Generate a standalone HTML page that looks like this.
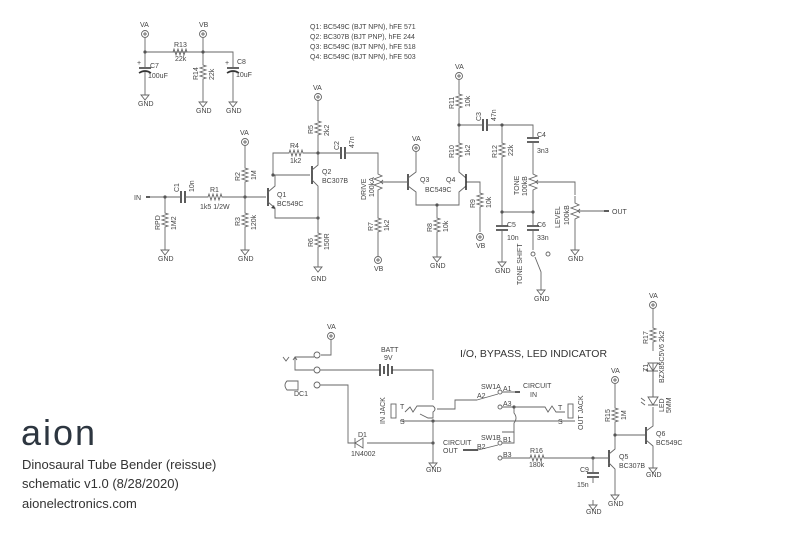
<!DOCTYPE html>
<html><head><style>
html,body{margin:0;padding:0;background:#fff;}
svg{display:block;}
text{font-family:"Liberation Sans",sans-serif;fill:#444;font-size:7px;}
.l{stroke:#666;stroke-width:0.9;fill:none;}
.t{stroke:#333;stroke-width:1.6;fill:none;}
</style></head><body>
<svg width="800" height="533" viewBox="0 0 800 533" xmlns="http://www.w3.org/2000/svg">
<defs>
<g id="rv"><path class="l" d="M0,-10 L0,-7 L3,-6 L-3,-4 L3,-2 L-3,0 L3,2 L-3,4 L3,6 L0,7 L0,10"/></g>
<g id="rh"><path class="l" d="M-10,0 L-7,0 L-6,-3 L-4,3 L-2,-3 L0,3 L2,-3 L4,3 L6,-3 L7,0 L10,0"/></g>
<g id="vc"><circle cx="0" cy="0" r="3.5" class="l"/><path class="l" d="M-2,0 L2,0 M0,-2 L0,2"/></g>
<g id="gd"><path class="l" d="M0,-5 L0,0 M-4,0 L4,0 L0,5 Z"/></g>
<g id="cv"><path class="t" d="M-6,-2 L6,-2 M-6,2 L6,2"/><path class="l" d="M0,-8 L0,-2 M0,2 L0,8"/></g>
<g id="ch"><path class="t" d="M-2,-6 L-2,6 M2,-6 L2,6"/><path class="l" d="M-8,0 L-2,0 M2,0 L8,0"/></g>
<g id="dot"><circle r="1.6" fill="#555"/></g>
<g id="pot"><path class="l" d="M0,-15 L0,-8 L4,-6 L-4,-3 L4,0 L-4,3 L4,6 L0,8 L0,15 M9,0 L3,0 M5,-2 L3,0 L5,2"/></g>
</defs>

<!-- Power filter -->
<use href="#vc" x="145" y="34"/><text x="140" y="27">VA</text>
<path class="l" d="M145,38 V52 H203 M145,52 V62 M145,78 V90 M203,38 V62 M203,82 V97 M203,52 H233 V62 M233,78 V97"/>
<use href="#rh" x="180" y="52"/><text x="174" y="47">R13</text><text x="175" y="61">22k</text>
<use href="#vc" x="203" y="34"/><text x="199" y="27">VB</text>
<use href="#dot" x="145" y="52"/><use href="#dot" x="203" y="52"/>
<path class="t" d="M139,68 H151 M139,73 Q145,69 151,73"/><text x="137" y="65" font-size="6">+</text>
<path class="l" d="M145,62 V68 M145,72 V78"/>
<text x="150" y="68">C7</text><text x="148" y="78">100uF</text>
<use href="#rv" x="203" y="72"/>
<text transform="translate(198,80) rotate(-90)">R14</text><text transform="translate(214,80) rotate(-90)">22k</text>
<path class="t" d="M227,68 H239 M227,73 Q233,69 239,73"/><text x="225" y="65" font-size="6">+</text>
<path class="l" d="M233,62 V68 M233,72 V78"/>
<text x="237" y="64">C8</text><text x="236" y="77">10uF</text>
<use href="#gd" x="145" y="95"/><text x="138" y="106">GND</text>
<use href="#gd" x="203" y="102"/><text x="196" y="113">GND</text>
<use href="#gd" x="233" y="102"/><text x="226" y="113">GND</text>

<text x="310" y="29">Q1: BC549C (BJT NPN), hFE 571</text>
<text x="310" y="39">Q2: BC307B (BJT PNP), hFE 244</text>
<text x="310" y="49">Q3: BC549C (BJT NPN), hFE 518</text>
<text x="310" y="59">Q4: BC549C (BJT NPN), hFE 503</text>

<!-- Input stage -->
<text x="134" y="200">IN</text>
<path class="t" d="M146,197 H150"/>
<path class="l" d="M150,197 H175 M191,197 H205 M225,197 H266 M165,197 V210 M165,230 V245"/>
<use href="#dot" x="165" y="197"/>
<use href="#rv" x="165" y="220"/><text transform="translate(160,230) rotate(-90)">RPD</text><text transform="translate(176,230) rotate(-90)">1M2</text>
<use href="#gd" x="165" y="250"/><text x="158" y="261">GND</text>
<use href="#ch" x="183" y="197"/><text transform="translate(179,192) rotate(-90)">C1</text><text transform="translate(194,192) rotate(-90)">10n</text>
<use href="#rh" x="215" y="197"/><text x="210" y="192">R1</text><text x="200" y="209">1k5 1/2W</text>
<use href="#dot" x="245" y="197"/>
<use href="#vc" x="245" y="142"/><text x="240" y="135">VA</text>
<path class="l" d="M245,146 V165 M245,185 V210 M245,230 V245"/>
<use href="#rv" x="245" y="175"/><text transform="translate(240,181) rotate(-90)">R2</text><text transform="translate(256,180) rotate(-90)">1M</text>
<use href="#rv" x="245" y="220"/><text transform="translate(240,226) rotate(-90)">R3</text><text transform="translate(256,230) rotate(-90)">120k</text>
<use href="#gd" x="245" y="250"/><text x="238" y="261">GND</text>
<!-- Q1 -->
<path class="t" d="M268,188 V206"/>
<path class="l" d="M268,192 L275,186 V175 M268,202 L275,208 V218 H318 M273,175 V153 H286 M306,153 H318 M273,175 H310"/>
<path d="M275,209 L271,208 L274,205 Z" fill="#444"/>
<use href="#dot" x="273" y="175"/><use href="#dot" x="318" y="218"/>
<text x="277" y="197">Q1</text><text x="277" y="206">BC549C</text>
<use href="#rh" x="296" y="153"/><text x="290" y="148">R4</text><text x="290" y="163">1k2</text>
<!-- Q2 -->
<path class="t" d="M312,166 V184"/>
<path class="l" d="M312,170 L318,165 V153 M312,180 L318,186 V230 M318,250 V262"/>
<text x="322" y="174">Q2</text><text x="322" y="183">BC307B</text>
<use href="#vc" x="318" y="97"/><text x="313" y="90">VA</text>
<path class="l" d="M318,101 V118 M318,138 V153 M318,153 H335 M351,153 H378 V167"/>
<use href="#rv" x="318" y="128"/><text transform="translate(313,134) rotate(-90)">R5</text><text transform="translate(329,136) rotate(-90)">2k2</text>
<use href="#dot" x="318" y="153"/>
<use href="#ch" x="343" y="153"/><text transform="translate(339,150) rotate(-90)">C2</text><text transform="translate(354,148) rotate(-90)">47n</text>
<use href="#rv" x="318" y="240"/><text transform="translate(313,247) rotate(-90)">R6</text><text transform="translate(329,250) rotate(-90)">150R</text>
<use href="#gd" x="318" y="267"/><text x="311" y="281">GND</text>
<!-- drive pot -->
<use href="#pot" x="378" y="182"/>
<text transform="translate(366,200) rotate(-90)">DRIVE</text><text transform="translate(374,197) rotate(-90)">100kA</text>
<path class="l" d="M378,197 V215 M378,235 V250 M387,182 H402"/>
<use href="#rv" x="378" y="225"/><text transform="translate(373,231) rotate(-90)">R7</text><text transform="translate(389,231) rotate(-90)">1k2</text>
<use href="#vc" x="378" y="260"/><text x="374" y="271">VB</text>
<path class="l" d="M378,250 V256"/>
<!-- Q3 Q4 -->
<path class="t" d="M408,174 V190"/>
<path class="l" d="M402,182 H408 M408,178 L416,172 V152 M408,186 L416,192 V205 H459 V192 L466,186 M466,178 L459,172 V160 M437,205 V215 M437,235 V252 M466,182 H480 V190 M480,210 V232"/>
<path class="t" d="M466,174 V190"/>
<use href="#vc" x="416" y="148"/><text x="412" y="141">VA</text>
<use href="#dot" x="437" y="205"/>
<text x="420" y="182">Q3</text><text x="446" y="182">Q4</text><text x="425" y="192">BC549C</text>
<use href="#rv" x="437" y="225"/><text transform="translate(432,232) rotate(-90)">R8</text><text transform="translate(448,232) rotate(-90)">10k</text>
<use href="#gd" x="437" y="257"/><text x="430" y="268">GND</text>
<use href="#rv" x="480" y="200"/><text transform="translate(475,208) rotate(-90)">R9</text><text transform="translate(491,208) rotate(-90)">10k</text>
<use href="#vc" x="480" y="237"/><text x="476" y="248">VB</text>
<use href="#rv" x="459" y="150"/><text transform="translate(454,158) rotate(-90)">R10</text><text transform="translate(470,156) rotate(-90)">1k2</text>
<use href="#rv" x="459" y="101"/><text transform="translate(454,109) rotate(-90)">R11</text><text transform="translate(470,107) rotate(-90)">10k</text>
<use href="#vc" x="459" y="76"/><text x="455" y="69">VA</text>
<path class="l" d="M459,80 V91 M459,111 V140 M459,125 H477 M493,125 H533 V132 M502,125 V140 M502,160 V220 M502,236 V257 M533,148 V167 M533,197 V220 M533,236 V250 M502,212 H533"/>
<use href="#dot" x="459" y="125"/><use href="#dot" x="502" y="125"/><use href="#dot" x="502" y="212"/><use href="#dot" x="533" y="212"/>
<use href="#ch" x="485" y="125"/><text transform="translate(481,121) rotate(-90)">C3</text><text transform="translate(496,121) rotate(-90)">47n</text>
<use href="#rv" x="502" y="150"/><text transform="translate(497,158) rotate(-90)">R12</text><text transform="translate(513,156) rotate(-90)">22k</text>
<use href="#cv" x="533" y="140"/><text x="537" y="137">C4</text><text x="537" y="153">3n3</text>
<use href="#pot" x="533" y="182"/><text transform="translate(519,195) rotate(-90)">TONE</text><text transform="translate(527,196) rotate(-90)">100kB</text>
<path class="l" d="M542,182 H575 V195"/>
<use href="#cv" x="502" y="228"/><text x="507" y="227">C5</text><text x="507" y="240">10n</text>
<use href="#cv" x="533" y="228"/><text x="537" y="227">C6</text><text x="537" y="240">33n</text>
<use href="#gd" x="502" y="262"/><text x="495" y="273">GND</text>
<circle cx="533" cy="254" r="2" class="l" stroke-width="1.5"/><circle cx="548" cy="254" r="2" class="l" stroke-width="1.5"/>
<path class="l" d="M535,257 L541,272 V285"/>
<text transform="translate(522,285) rotate(-90)">TONE SHIFT</text>
<use href="#gd" x="541" y="290"/><text x="534" y="301">GND</text>
<use href="#pot" x="575" y="211"/><text transform="translate(560,228) rotate(-90)">LEVEL</text><text transform="translate(569,225) rotate(-90)">100kB</text>
<path class="l" d="M575,226 V245 M584,211 H604"/><path class="t" d="M604,211 H609"/>
<text x="612" y="214">OUT</text>
<use href="#gd" x="575" y="250"/><text x="568" y="261">GND</text>

<!-- Bottom I/O -->
<use href="#vc" x="331" y="336"/><text x="327" y="329">VA</text>
<path class="l" d="M331,340 V355 H321"/>
<circle cx="317" cy="355" r="3" class="l"/><circle cx="317" cy="370" r="3" class="l"/><circle cx="317" cy="385" r="3" class="l"/>
<path class="l" d="M283,357 L286,361 L289,357 M293,360 L295,357 L297,360 M295,357 V370 H314 M295,357 H314 M287,381 H298 V390 H287 Q283,385 287,381 Z"/>
<text x="294" y="396">DC1</text>
<path class="l" d="M320,370 H380 M392,370 H433 V400 M320,385 H348 V443 H355 M367,443 H433"/>
<path class="t" d="M380,364 V376 M384,366 V374 M388,364 V376 M392,366 V374"/>
<text x="381" y="352">BATT</text><text x="384" y="360">9V</text>
<path class="l" d="M355,438 V448 M355,443 L363,438 V448 Z M363,438 V448"/>
<text x="358" y="437">D1</text><text x="351" y="456">1N4002</text>
<use href="#dot" x="433" y="443"/>
<text x="460" y="357" style="font-size:10.5px;fill:#333">I/O, BYPASS, LED INDICATOR</text>
<!-- IN jack -->
<rect x="391" y="404" width="5" height="14" class="l"/>
<text transform="translate(385,424) rotate(-90)">IN JACK</text>
<text x="400" y="409" font-size="5">T</text><text x="400" y="424" font-size="5">S</text>
<path class="l" d="M405,412 L410,407 L413,412 L417,406 H433 Q437,409 433,412 V418 H428 L420,414 M400,421 H575"/>
<path class="l" d="M437,409 H455 V400 H477"/>
<use href="#dot" x="433" y="421"/>
<path class="l" d="M433,421 V458"/><use href="#gd" x="433" y="463"/><text x="426" y="472">GND</text>
<!-- SW1A -->
<circle cx="500" cy="392" r="2" class="l" stroke-width="1.5"/><circle cx="500" cy="407" r="2" class="l" stroke-width="1.5"/>
<path class="l" d="M477,400 L498,394 M502,392 H518 M502,407 H514 V413 Q518,418 514,423 V432 H502"/>
<path class="t" d="M515,392 H520"/>
<text x="481" y="389">SW1A</text><text x="503" y="391" font-size="5.5">A1</text><text x="477" y="398" font-size="5.5">A2</text><text x="503" y="406" font-size="5.5">A3</text>
<text x="523" y="388">CIRCUIT</text><text x="530" y="397">IN</text>
<use href="#dot" x="514" y="407"/>
<path class="l" d="M514,407 H545 L548,412 L552,406 L556,412 H565 M565,421 H555"/>
<rect x="568" y="404" width="5" height="14" class="l"/>
<text transform="translate(583,430) rotate(-90)">OUT JACK</text>
<text x="558" y="410" font-size="5">T</text><text x="558" y="424" font-size="5">S</text>
<!-- SW1B -->
<circle cx="500" cy="443" r="2" class="l" stroke-width="1.5"/><circle cx="500" cy="458" r="2" class="l" stroke-width="1.5"/>
<path class="l" d="M478,450 L498,445 M502,443 H514 V432 M502,458 H527 M547,458 H608"/>
<path class="t" d="M463,450 H478"/>
<text x="481" y="440">SW1B</text><text x="503" y="442" font-size="5.5">B1</text><text x="477" y="449" font-size="5.5">B2</text><text x="503" y="457" font-size="5.5">B3</text>
<text x="443" y="445">CIRCUIT</text><text x="443" y="453">OUT</text>
<use href="#rh" x="537" y="458"/><text x="530" y="453">R16</text><text x="529" y="467">180k</text>
<use href="#dot" x="593" y="458"/>
<path class="l" d="M593,458 V467"/><use href="#cv" x="593" y="475"/>
<text x="580" y="472">C9</text><text x="577" y="487">15n</text>
<use href="#gd" x="593" y="505"/><text x="586" y="514">GND</text>
<!-- Q5 -->
<path class="t" d="M609,450 V467"/>
<path class="l" d="M608,458 H609 M609,454 L615,449 V435 M609,463 L615,469 V490 M615,435 V425 M615,405 V384 M615,435 H645"/>
<use href="#vc" x="615" y="380"/><text x="611" y="373">VA</text>
<use href="#rv" x="615" y="415"/><text transform="translate(610,422) rotate(-90)">R15</text><text transform="translate(626,420) rotate(-90)">1M</text>
<use href="#dot" x="615" y="435"/>
<text x="619" y="459">Q5</text><text x="619" y="468">BC307B</text>
<use href="#gd" x="615" y="495"/><text x="608" y="506">GND</text>
<!-- Q6 -->
<path class="t" d="M646,427 V444"/>
<path class="l" d="M646,431 L653,426 V407 M646,440 L653,446 V463 M653,397 V363 M653,351 V345 M653,325 V309"/>
<text x="656" y="436">Q6</text><text x="656" y="445">BC549C</text>
<use href="#gd" x="653" y="468"/><text x="646" y="477">GND</text>
<use href="#vc" x="653" y="305"/><text x="649" y="298">VA</text>
<use href="#rv" x="653" y="335"/><text transform="translate(648,344) rotate(-90)">R17</text><text transform="translate(664,342) rotate(-90)">2k2</text>
<path class="l" d="M648,363 H658 L653,371 Z M648,371 H658 M648,371 L646,369 M658,363 L660,365"/>
<path class="l" d="M653,371 V397 M648,397 H658 L653,405 Z M648,405 H658"/>
<path class="l" d="M641,398 L645,401 M641,402 L645,405"/>
<text transform="translate(648,372) rotate(-90)">Z1</text><text transform="translate(664,383) rotate(-90)">BZX85C5V6</text>
<text transform="translate(664,412) rotate(-90)">LED</text><text transform="translate(671,413) rotate(-90)">5MM</text>

<!-- Branding -->
<text x="21" y="445" style="font-size:36px;fill:#2d3640;letter-spacing:2px">aion</text>
<text x="22" y="469" style="font-size:13px;fill:#333">Dinosaural Tube Bender (reissue)</text>
<text x="22" y="488" style="font-size:13px;fill:#333">schematic v1.0 (8/28/2020)</text>
<text x="22" y="508" style="font-size:13px;fill:#333">aionelectronics.com</text>
</svg>
</body></html>
